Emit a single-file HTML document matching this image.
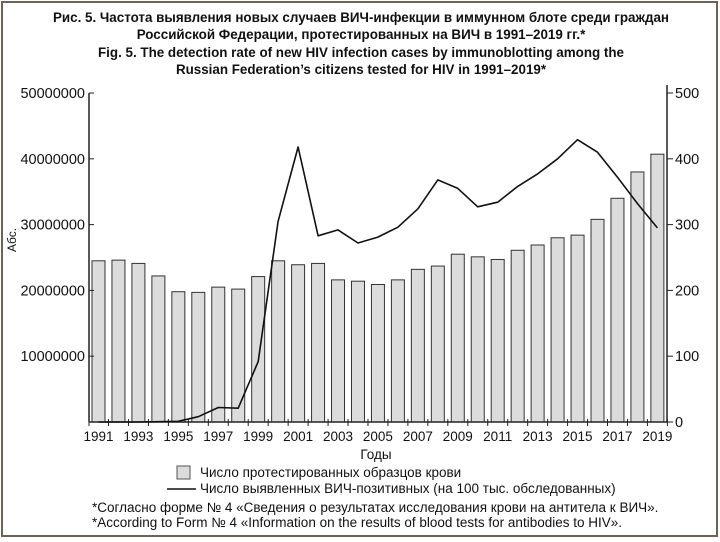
<!DOCTYPE html>
<html><head><meta charset="utf-8"><style>
body{margin:0;background:#fff}
svg{display:block;font-family:"Liberation Sans","DejaVu Sans",sans-serif}
</style></head><body>
<svg width="720" height="542" viewBox="0 0 720 542" xmlns="http://www.w3.org/2000/svg">
<rect x="0" y="0" width="720" height="542" fill="#fff"/>
<rect x="2" y="2" width="715" height="534" fill="none" stroke="#6b6357" stroke-width="2"/>
<g font-weight="bold" font-size="13.4" fill="#111" text-anchor="middle">
<text x="361" y="22">Рис. 5. Частота выявления новых случаев ВИЧ-инфекции в иммунном блоте среди граждан</text>
<text x="361" y="39">Российской Федерации, протестированных на ВИЧ в 1991–2019 гг.*</text>
<text x="361" y="57">Fig. 5. The detection rate of new HIV infection cases by immunoblotting among the</text>
<text x="361" y="74">Russian Federation’s citizens tested for HIV in 1991–2019*</text>
</g>
<g id="bars" fill="#dcdcdc" stroke="#333" stroke-width="1"></g>
<g stroke="#222" stroke-width="1.5" fill="none">
<line x1="89" y1="93" x2="89" y2="422"/>
<line x1="667" y1="85" x2="667" y2="422"/>
<line x1="89" y1="422" x2="667" y2="422"/>
</g>
<g id="ticks" stroke="#222" stroke-width="1"></g>
<polyline id="line" fill="none" stroke="#111" stroke-width="1.6" stroke-linejoin="round"/>
<g id="lab" font-size="13.5" fill="#111"></g>
<g id="ylab" font-size="14.5" fill="#111"></g>
<text x="16" y="240" font-size="12" fill="#111" transform="rotate(-90 16 240)" text-anchor="middle">Абс.</text>
<text x="376" y="459" font-size="13.5" fill="#111" text-anchor="middle">Годы</text>
<rect x="177" y="466" width="13" height="13" fill="#dcdcdc" stroke="#555"/>
<line x1="167" y1="489" x2="196" y2="489" stroke="#111" stroke-width="1.5"/>
<g font-size="13.5" fill="#111">
<text x="200" y="477">Число протестированных образцов крови</text>
<text x="200" y="493">Число выявленных ВИЧ-позитивных (на 100 тыс. обследованных)</text>
<text x="92" y="512">*Согласно форме № 4 «Сведения о результатах исследования крови на антитела к ВИЧ».</text>
<text x="92" y="527">*According to Form № 4 «Information on the results of blood tests for antibodies to HIV».</text>
</g>
<script>
var bars=[24.5,24.6,24.1,22.2,19.8,19.7,20.5,20.2,22.1,24.5,23.9,24.1,21.6,21.4,20.9,21.6,23.2,23.7,25.5,25.1,24.7,26.1,26.9,28.0,28.4,30.8,34.0,38.0,40.7];
var ln=[0,0,0,0.5,1,8,22,21,92,305,418,283,292,272,281,296,324,368,355,327,334,358,377,400,429,410,372,332,295];
var ns="http://www.w3.org/2000/svg";
function el(t,a,p){var e=document.createElementNS(ns,t);for(var k in a)e.setAttribute(k,a[k]);document.getElementById(p).appendChild(e);return e;}
var pts=[];
for(var i=0;i<29;i++){var cx=98.5+i*19.96;var h=bars[i]*6.58;
el("rect",{x:cx-6.5,y:422-h,width:13,height:h},"bars");
pts.push(cx.toFixed(1)+","+(422-ln[i]*0.658).toFixed(1));
el("line",{x1:cx+10,y1:419,x2:cx+10,y2:426},"ticks");
if(i%2==0){var t=el("text",{x:cx,y:441,"text-anchor":"middle"},"lab");t.textContent=1991+i;}}
el("line",{x1:89,y1:419,x2:89,y2:426},"ticks");
document.getElementById("line").setAttribute("points",pts.join(" "));
for(var j=0;j<=5;j++){var y=422-j*65.8;
el("line",{x1:89,y1:y,x2:94,y2:y},"ticks");
el("line",{x1:667,y1:y,x2:673,y2:y},"ticks");
if(j>0){var t=el("text",{x:85,y:y+5,"text-anchor":"end"},"ylab");t.textContent=(j*10000000);}
var r=el("text",{x:675,y:y+5},"ylab");r.textContent=j*100;}
</script>
</svg>
</body></html>
